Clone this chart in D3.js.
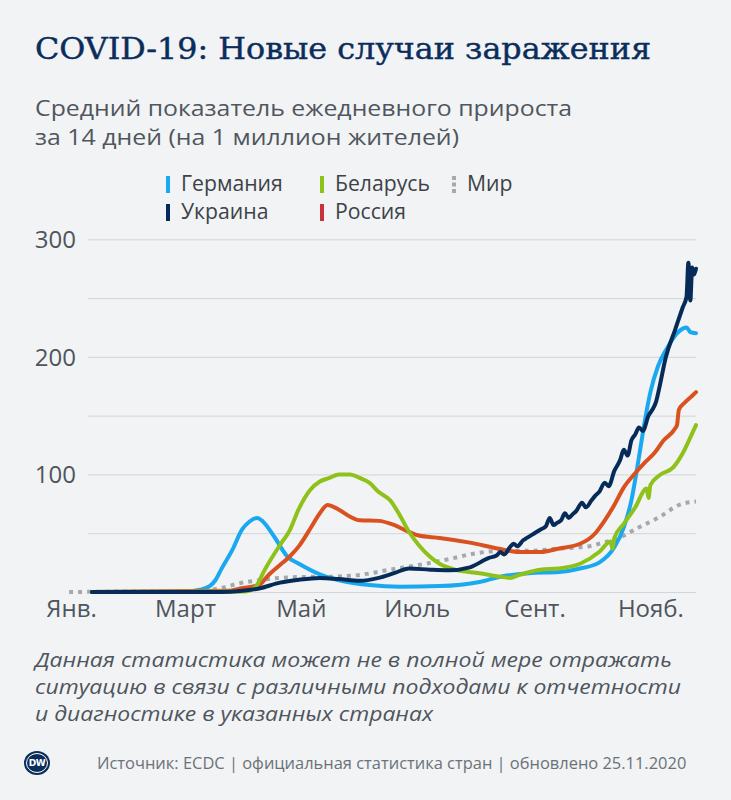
<!DOCTYPE html>
<html>
<head>
<meta charset="utf-8">
<script src="https://cdn.jsdelivr.net/npm/d3@7"></script>
<style>
  body { margin: 0; background: #f1f3f5; }
  svg { display: block; }
</style>
</head>
<body>
<svg id="chart"></svg>
<script>
// 14-day average of new daily cases per 1 million inhabitants
const germany = [
  ["2020-01-12", 0], ["2020-03-01", 0.5], ["2020-03-09", 2], ["2020-03-14", 5], ["2020-03-17", 10],
  ["2020-03-20", 19], ["2020-03-26", 36], ["2020-03-31", 53], ["2020-04-04", 60], ["2020-04-08", 63],
  ["2020-04-11", 60], ["2020-04-17", 47], ["2020-04-24", 30], ["2020-04-30", 24], ["2020-05-11", 15],
  ["2020-05-21", 10], ["2020-06-06", 6], ["2020-06-22", 4.5], ["2020-07-13", 5], ["2020-08-03", 8.5],
  ["2020-08-14", 13], ["2020-08-29", 16], ["2020-09-14", 17], ["2020-09-25", 20], ["2020-10-05", 25],
  ["2020-10-13", 38], ["2020-10-18", 55], ["2020-10-22", 78], ["2020-10-26", 115], ["2020-10-29", 145],
  ["2020-11-01", 170], ["2020-11-05", 192], ["2020-11-10", 208], ["2020-11-15", 220], ["2020-11-18", 224],
  ["2020-11-20", 225], ["2020-11-22", 221], ["2020-11-25", 220]
];
const belarus = [
  ["2020-01-12", 0], ["2020-04-02", 0.5], ["2020-04-07", 4], ["2020-04-12", 19], ["2020-04-20", 40],
  ["2020-04-25", 52], ["2020-04-30", 71], ["2020-05-06", 87], ["2020-05-11", 94], ["2020-05-16", 97],
  ["2020-05-21", 100], ["2020-05-27", 100], ["2020-06-01", 97], ["2020-06-06", 93], ["2020-06-11", 85],
  ["2020-06-17", 78], ["2020-06-22", 65.5], ["2020-06-27", 51], ["2020-07-02", 40], ["2020-07-08", 30],
  ["2020-07-13", 24], ["2020-07-21", 19], ["2020-08-03", 16], ["2020-08-14", 13], ["2020-08-19", 12],
  ["2020-08-24", 14.5], ["2020-09-04", 19], ["2020-09-14", 20], ["2020-09-25", 24], ["2020-10-05", 34],
  ["2020-10-11", 43], ["2020-10-12", 37], ["2020-10-13", 46], ["2020-10-18", 58], ["2020-10-24", 72],
  ["2020-10-30", 88], ["2020-10-31", 80], ["2020-11-01", 91], ["2020-11-06", 99.5], ["2020-11-13", 106],
  ["2020-11-18", 118], ["2020-11-23", 135], ["2020-11-25", 142]
];
const world = [
  ["2019-12-31", 0], ["2020-02-01", 0.4], ["2020-03-03", 0.5], ["2020-03-19", 3], ["2020-03-30", 7.5],
  ["2020-04-09", 10], ["2020-04-20", 12], ["2020-05-03", 12.8], ["2020-05-16", 13], ["2020-06-01", 14.5],
  ["2020-06-17", 19], ["2020-07-02", 23], ["2020-07-18", 28], ["2020-07-29", 32], ["2020-08-14", 35],
  ["2020-08-29", 35], ["2020-09-14", 37], ["2020-09-30", 39], ["2020-10-05", 41], ["2020-10-16", 46.5],
  ["2020-10-26", 55], ["2020-11-06", 64], ["2020-11-16", 74], ["2020-11-25", 77]
];
const ukraine = [
  ["2020-01-12", 0], ["2020-03-20", 0], ["2020-03-30", 0.8], ["2020-04-09", 3], ["2020-04-20", 8],
  ["2020-04-30", 10.5], ["2020-05-11", 12], ["2020-05-21", 11], ["2020-06-01", 9.5], ["2020-06-11", 12],
  ["2020-06-19", 16], ["2020-06-27", 20], ["2020-07-08", 19], ["2020-07-18", 18.5], ["2020-07-29", 21],
  ["2020-08-08", 29], ["2020-08-12", 31], ["2020-08-14", 34], ["2020-08-16", 32], ["2020-08-19", 38],
  ["2020-08-21", 41], ["2020-08-23", 39], ["2020-08-26", 44], ["2020-08-28", 46], ["2020-08-31", 49],
  ["2020-09-02", 51], ["2020-09-04", 53], ["2020-09-07", 56], ["2020-09-09", 63], ["2020-09-11", 57],
  ["2020-09-13", 59], ["2020-09-15", 61], ["2020-09-17", 67], ["2020-09-19", 63], ["2020-09-21", 66],
  ["2020-09-23", 69], ["2020-09-26", 76], ["2020-09-28", 72], ["2020-10-01", 78], ["2020-10-03", 82],
  ["2020-10-05", 85], ["2020-10-08", 93], ["2020-10-10", 90], ["2020-10-13", 103], ["2020-10-16", 112],
  ["2020-10-18", 121], ["2020-10-20", 116], ["2020-10-22", 129], ["2020-10-24", 134], ["2020-10-26", 140],
  ["2020-10-28", 137], ["2020-10-31", 150], ["2020-11-02", 155], ["2020-11-04", 162], ["2020-11-06", 176],
  ["2020-11-09", 199], ["2020-11-14", 223], ["2020-11-18", 242], ["2020-11-20", 251], ["2020-11-21", 280],
  ["2020-11-22", 248], ["2020-11-23", 276], ["2020-11-24", 270], ["2020-11-25", 275]
];
const russia = [
  ["2020-01-12", 0], ["2020-03-24", 1], ["2020-03-30", 3], ["2020-04-09", 6], ["2020-04-14", 14.5],
  ["2020-04-20", 23], ["2020-04-25", 30], ["2020-04-30", 39], ["2020-05-06", 54], ["2020-05-11", 67],
  ["2020-05-15", 74], ["2020-05-21", 70], ["2020-05-27", 64], ["2020-06-01", 61], ["2020-06-11", 60.5],
  ["2020-06-19", 57], ["2020-06-27", 51], ["2020-07-02", 48], ["2020-07-13", 46], ["2020-07-29", 42],
  ["2020-08-14", 36.5], ["2020-08-24", 34], ["2020-09-04", 34], ["2020-09-14", 37], ["2020-09-25", 41],
  ["2020-10-03", 50], ["2020-10-08", 61], ["2020-10-13", 74], ["2020-10-18", 89], ["2020-10-24", 101],
  ["2020-10-29", 110], ["2020-11-03", 118], ["2020-11-08", 129], ["2020-11-14", 139], ["2020-11-15", 142],
  ["2020-11-16", 155], ["2020-11-19", 161], ["2020-11-23", 167], ["2020-11-25", 170]
];

const gridTicks = [0, 50, 100, 150, 200, 250, 300];
const yLabels = [100, 200, 300];
const monthTicks = ["2020-01-01", "2020-03-01", "2020-05-01", "2020-07-01", "2020-09-01", "2020-11-01"];
const monthLabels = ["Янв.", "Март", "Май", "Июль", "Сент.", "Нояб."];

const width = 731, height = 800;
const sans = "'Open Sans', 'Noto Sans', sans-serif";
const parse = d3.timeParse("%Y-%m-%d");

const svg = d3.select("#chart").attr("width", width).attr("height", height);
svg.append("rect").attr("width", width).attr("height", height).attr("fill", "#f1f3f5");

// title + subtitle
svg.append("text")
  .attr("x", 35).attr("y", 59)
  .attr("textLength", 616).attr("lengthAdjust", "spacingAndGlyphs")
  .style("font-family", "'DejaVu Serif Condensed', 'DejaVu Serif', serif")
  .style("font-size", "30px")
  .attr("fill", "#0b2d5b").attr("stroke", "#0b2d5b").attr("stroke-width", 0.4)
  .text("COVID-19: Новые случаи заражения");

// text lines drawn at a smaller size and widened to the reference width
function wideLine(txt, xPos, yPos, len, size, color, italic) {
  svg.append("text")
    .attr("x", xPos).attr("y", yPos)
    .attr("textLength", len).attr("lengthAdjust", "spacingAndGlyphs")
    .style("font-family", sans).style("font-size", size + "px")
    .style("font-style", italic ? "italic" : "normal")
    .attr("fill", color)
    .text(txt);
}
wideLine("Средний показатель ежедневного прироста", 35, 116, 537, 21.5, "#50565d");
wideLine("за 14 дней (на 1 миллион жителей)", 35, 145, 424, 21.5, "#50565d");

// scales
const x = d3.scaleTime().domain([parse("2020-01-01"), parse("2020-11-25")]).range([71, 696]);
const y = d3.scaleLinear().domain([0, 300]).range([592, 239.3]);

// grid + y labels
svg.append("g")
  .attr("transform", "translate(88,0)")
  .call(d3.axisLeft(y).tickValues(gridTicks).tickSize(-608)
    .tickFormat(d => yLabels.includes(d) ? d : ""))
  .call(g => g.select(".domain").remove())
  .call(g => g.selectAll(".tick line").attr("stroke", "#d2d5d9").attr("stroke-width", 1))
  .call(g => g.selectAll(".tick text")
    .attr("x", -12).attr("dy", "0.35em")
    .style("font-family", sans).style("font-size", "24px").attr("fill", "#4f555c"));

// x labels
svg.append("g")
  .attr("transform", "translate(0,592)")
  .call(d3.axisBottom(x).tickValues(monthTicks.map(parse)).tickSize(0).tickPadding(8)
    .tickFormat((d, i) => monthLabels[i]))
  .call(g => g.select(".domain").remove())
  .call(g => g.selectAll(".tick text")
    .style("font-family", sans).style("font-size", "24px").attr("fill", "#4f555c"));

// lines
const line = d3.line()
  .x(d => x(parse(d[0])))
  .y(d => y(d[1]))
  .curve(d3.curveMonotoneX);

const series = [
  { data: world, color: "#a5a9ae", dash: "4 5" },
  { data: germany, color: "#1aa9f0" },
  { data: russia, color: "#d9511f" },
  { data: belarus, color: "#8fc11b" },
  { data: ukraine, color: "#072b58" }
];

series.forEach(s => {
  svg.append("path")
    .datum(s.data)
    .attr("d", line)
    .attr("fill", "none")
    .attr("stroke", s.color)
    .attr("stroke-width", 4)
    .attr("stroke-linejoin", "round")
    .attr("stroke-linecap", s.dash ? "butt" : "round")
    .attr("stroke-dasharray", s.dash || null);
});

// legend
const legend = [
  { name: "Германия", color: "#1aa9f0", x: 168, y: 184 },
  { name: "Беларусь", color: "#8fc11b", x: 322, y: 184 },
  { name: "Мир", color: "#a5a9ae", x: 454, y: 184, dash: true },
  { name: "Украина", color: "#072b58", x: 168, y: 212 },
  { name: "Россия", color: "#c8323a", x: 322, y: 212 }
];
const lg = svg.append("g").selectAll("g").data(legend).enter().append("g")
  .attr("transform", d => "translate(" + d.x + "," + d.y + ")");
lg.append("line")
  .attr("x1", 0).attr("x2", 0).attr("y1", -8).attr("y2", 9)
  .attr("stroke", d => d.color).attr("stroke-width", 4)
  .attr("stroke-dasharray", d => d.dash ? "4 2.5" : null);
lg.append("text")
  .attr("x", 13).attr("dy", "0.35em")
  .style("font-family", sans).style("font-size", "21.2px").attr("fill", "#3d4248")
  .text(d => d.name);

// note
wideLine("Данная статистика может не в полной мере отражать", 35, 667, 637, 20, "#4f555c", true);
wideLine("ситуацию в связи с различными подходами к отчетности", 35, 694, 646, 20, "#4f555c", true);
wideLine("и диагностике в указанных странах", 35, 721, 398, 20, "#4f555c", true);

// footer
const logo = svg.append("g").attr("transform", "translate(37,763)");
logo.append("ellipse").attr("rx", 13).attr("ry", 12).attr("fill", "#0b2d5b");
logo.append("ellipse").attr("rx", 10.5).attr("ry", 9.5).attr("fill", "none")
  .attr("stroke", "#ffffff").attr("stroke-width", 1);
logo.append("text").attr("text-anchor", "middle").attr("dy", "0.36em")
  .style("font-family", "'DejaVu Sans', sans-serif").style("font-size", "9px").style("font-weight", "bold")
  .attr("fill", "#ffffff").attr("letter-spacing", "-0.5")
  .text("DW");

svg.append("text")
  .attr("x", 97).attr("y", 763).attr("dy", "0.35em")
  .style("font-family", sans).style("font-size", "16.45px").attr("fill", "#6b7178")
  .text("Источник: ECDC | официальная статистика стран | обновлено 25.11.2020");
</script>
</body>
</html>
